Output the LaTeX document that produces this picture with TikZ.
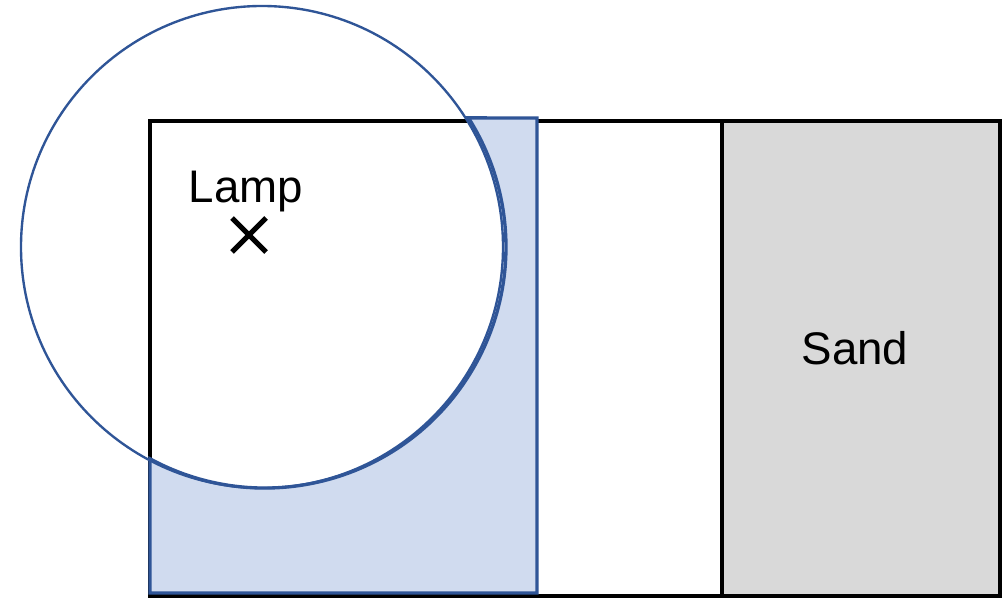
\documentclass[tikz,border=0pt]{standalone}
\usepackage{fontspec}
\setmainfont{Liberation Sans}
\definecolor{bluefill}{HTML}{D0DBEF}
\definecolor{blueline}{HTML}{2F5597}
\definecolor{sandgray}{HTML}{D9D9D9}
\begin{document}
\begin{tikzpicture}[x=0.02cm,y=-0.02cm,
  blackbox/.style={draw=black,line width=2.2pt},
  bluezone/.style={draw=blueline,fill=bluefill,line width=1.9pt,line join=miter},
  lampcircle/.style={draw=blueline,line width=1.35pt},
  lbl/.style={font=\fontsize{26pt}{30pt}\selectfont,inner sep=0pt,anchor=base}]
\useasboundingbox (0,0) rectangle (1007,598);
% outer area
\draw[blackbox] (150,121) rectangle (1000,596);
% sand
\draw[blackbox,fill=sandgray] (722,121) rectangle (1000,596);
\node[lbl] (sand) at (855,364) {Sand};
% blue zone outside lamp circle
\path[bluezone] (150,458.8) arc[start angle=118.5,end angle=-32.4,radius=241]
  -- (537,118) -- (537,593) -- (150,593) -- cycle;
% lamp circle
\draw[lampcircle] (262,247) circle[radius=241];
% lamp
\node[lbl] (lamp) at (246,202) {Lamp};
\coordinate (c1) at (232,218);
\coordinate (c2) at (266,252);
\coordinate (c3) at (232,252);
\coordinate (c4) at (266,218);
\draw[line width=3pt] (c1) -- (c2) (c3) -- (c4);
\end{tikzpicture}
\end{document}
